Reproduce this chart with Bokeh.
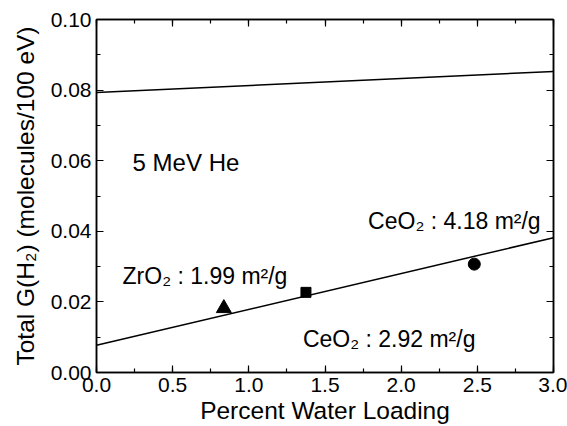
from bokeh.plotting import figure
from bokeh.models import (Range1d, SingleIntervalTicker, NumeralTickFormatter,
                          LinearAxis, CustomJSTickFormatter, Label)
from bokeh.embed import file_html
from bokeh.resources import INLINE

# ---- data ----
fit_x = [0.0, 3.0]
upper_fit_y = [0.0793, 0.0853]
lower_fit_y = [0.0077, 0.0382]

zro2_x = [0.836]
zro2_y = [0.0182]
ceo2_a_x = [1.375]
ceo2_a_y = [0.0227]
ceo2_b_x = [2.48]
ceo2_b_y = [0.0307]

x_label = "Percent Water Loading"
y_label = "Total G(H\u2082) (molecules/100 eV)"
ann_texts = ["5 MeV He", "CeO\u2082 : 4.18 m\u00b2/g", "ZrO\u2082 : 1.99 m\u00b2/g", "CeO\u2082 : 2.92 m\u00b2/g"]

FONT = "Liberation Sans"

p = figure(width=567, height=426, x_range=Range1d(0, 3), y_range=Range1d(0, 0.1),
           output_backend="svg", toolbar_location=None,
           min_border_left=96, min_border_right=14, min_border_top=19, min_border_bottom=10)
p.grid.visible = False
p.outline_line_color = "black"
p.outline_line_width = 1.5

xt = SingleIntervalTicker(interval=0.5, num_minor_ticks=2)
yt = SingleIntervalTicker(interval=0.02, num_minor_ticks=2)

def style_axis(ax, ticker, fmt, label=None):
    ax.ticker = ticker
    ax.formatter = fmt
    ax.axis_line_color = "black"
    ax.axis_line_width = 1.5
    ax.major_tick_in = 7
    ax.major_tick_out = 0
    ax.minor_tick_in = 4
    ax.minor_tick_out = 0
    ax.major_tick_line_color = "black"
    ax.minor_tick_line_color = "black"
    ax.major_tick_line_width = 1.2
    ax.minor_tick_line_width = 1.2
    ax.major_label_text_font = FONT
    ax.major_label_text_font_size = "21px"
    ax.major_label_text_color = "black"
    if label is not None:
        ax.axis_label = label
        ax.axis_label_text_font = FONT
        ax.axis_label_text_font_size = "24.5px"
        ax.axis_label_text_font_style = "normal"
        ax.axis_label_text_color = "black"

style_axis(p.xaxis[0], xt, NumeralTickFormatter(format="0.0"), x_label)
p.xaxis[0].major_label_standoff = 5
p.xaxis[0].axis_label_standoff = 2
style_axis(p.yaxis[0], yt, NumeralTickFormatter(format="0.00"), y_label)
p.yaxis[0].major_label_standoff = 5
p.yaxis[0].axis_label_standoff = 9

blank = CustomJSTickFormatter(code="return '';")
top = LinearAxis()
style_axis(top, SingleIntervalTicker(interval=0.5, num_minor_ticks=2), blank)
top.major_label_standoff = 0
right = LinearAxis()
style_axis(right, SingleIntervalTicker(interval=0.02, num_minor_ticks=2), blank)
right.major_label_standoff = 0
p.add_layout(top, "above")
p.add_layout(right, "right")

# fit lines
p.line(fit_x, upper_fit_y, line_color="black", line_width=1.5)
p.line(fit_x, lower_fit_y, line_color="black", line_width=1.5)

# points
p.scatter(zro2_x, zro2_y, marker="triangle", size=15, color="black")
p.scatter(ceo2_a_x, ceo2_a_y, marker="square", size=10, color="black")
p.scatter(ceo2_b_x, ceo2_b_y, marker="circle", size=12, color="black")

# annotations
ann_pos = [(0.237, 0.0594), (1.783, 0.0429), (0.171, 0.0273), (1.355, 0.0094)]
ann_sizes = ["24px", "23px", "23px", "23px"]
for t, (x, y), s in zip(ann_texts, ann_pos, ann_sizes):
    p.add_layout(Label(x=x, y=y, text=t, text_font=FONT, text_font_size=s,
                       text_color="black", text_baseline="alphabetic", text_align="left"))

open("out.html", "w").write(file_html(p, INLINE))
